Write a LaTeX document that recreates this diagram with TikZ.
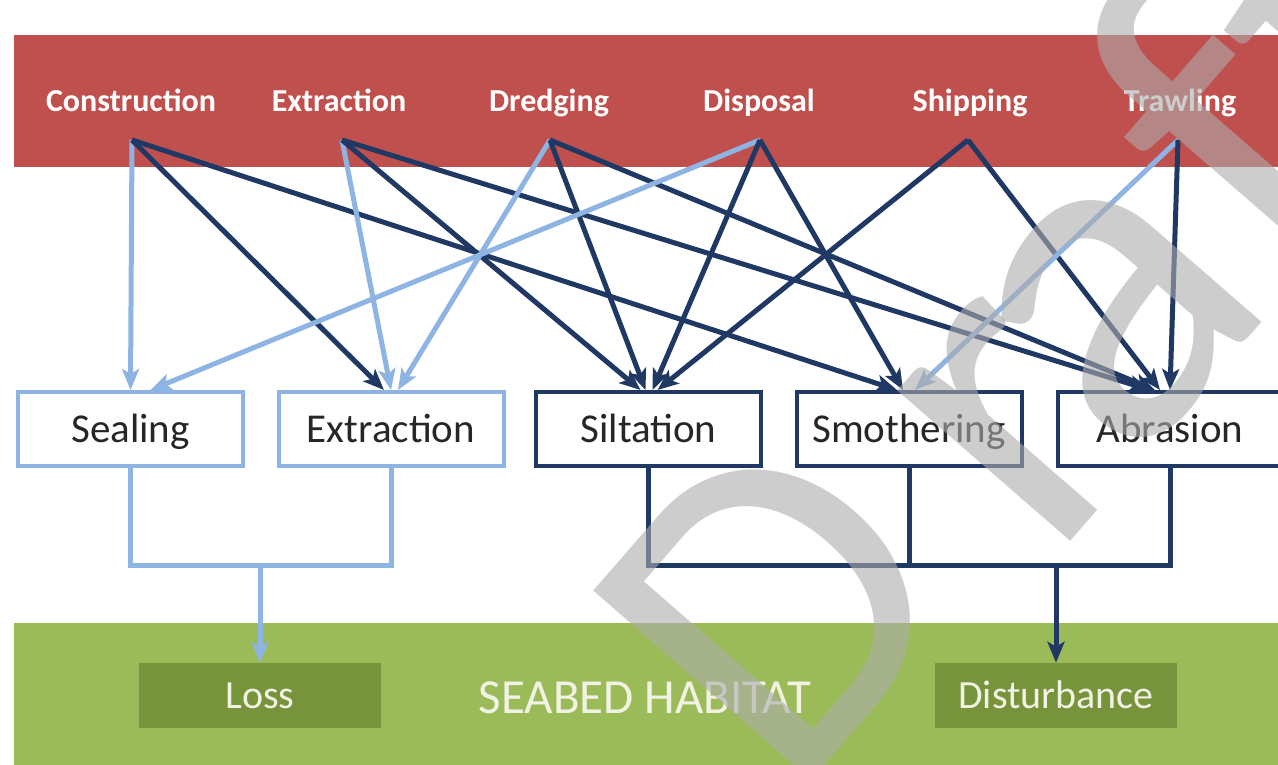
\documentclass[tikz,border=0pt]{standalone}
\usepackage{fontspec}
\setmainfont{Carlito}
\usetikzlibrary{arrows.meta,calc}
\definecolor{redband}{RGB}{192,80,77}
\definecolor{greenband}{RGB}{155,187,89}
\definecolor{greenbox}{RGB}{119,147,60}
\definecolor{navy}{RGB}{31,56,100}
\definecolor{lightblue}{RGB}{141,180,226}
\definecolor{boxtext}{RGB}{38,38,38}
\definecolor{cream}{RGB}{242,242,228}
\definecolor{wmgray}{RGB}{172,172,172}
\begin{document}
\begin{tikzpicture}[x=1pt,y=-1pt,
  toplab/.style={text=white,font=\fontsize{32}{36}\selectfont\bfseries,anchor=base,inner sep=0pt},
  effbox/.style={draw,fill=white,line width=4pt,minimum width=225pt,minimum height=74pt,inner sep=0pt,text=boxtext,font=\fontsize{41}{48}\selectfont,text height=26pt,text depth=0pt},
  lightbox/.style={effbox,draw=lightblue},
  darkbox/.style={effbox,draw=navy},
  habbox/.style={fill=greenbox,minimum width=242pt,minimum height=65pt,inner sep=0pt,text=cream,font=\fontsize{40}{48}\selectfont,text height=26pt,text depth=0pt},
  tipstyle/.style={-{Stealth[length=21pt,width=17pt,inset=5pt]}},
  larrow/.style={draw=lightblue,line width=5pt,tipstyle},
  darrow/.style={draw=navy,line width=5pt,tipstyle},
  lline/.style={draw=lightblue,line width=5pt},
  dline/.style={draw=navy,line width=5pt},
  wmletter/.style={rotate=49,anchor=base west,text=wmgray,text opacity=0.6,font=\fontsize{480}{480}\selectfont,inner sep=0pt},
  wmbig/.style={wmletter,font=\fontsize{450}{450}\selectfont},
]
\useasboundingbox (0,0) rectangle (1278,765);
\clip (0,0) rectangle (1278,765);
\fill[white] (0,0) rectangle (1278,765);

% bands
\fill[redband] (14,35) rectangle (1290,167);
\fill[greenband] (14,623) rectangle (1290,780);

% top labels
\node[toplab] (con) at (131,112) {Construction};
\node[toplab] (ext) at (339,112) {Extraction};
\node[toplab] (dre) at (549,112) {Dredging};
\node[toplab] (dis) at (759,112) {Disposal};
\node[toplab] (shi) at (970,112) {Shipping};
\node[toplab] (tra) at (1180,112) {Trawling};

\coordinate (conO) at (132,140);
\coordinate (extO) at (342,140);
\coordinate (dreO) at (550,140);
\coordinate (disO) at (760,140);
\coordinate (shiO) at (968,140);
\coordinate (traO) at (1178,140);

% effect boxes
\node[lightbox] (seal) at (130.5,429) {Sealing};
\node[lightbox] (extr) at (391,429) {Extraction};
\node[darkbox] (silt) at (648.5,429) {Siltation};
\node[darkbox] (smo) at (909,429) {Smothering};
\node[darkbox] (abr) at (1170,429) {Abrasion};

% habitat
\node[habbox] (loss) at (260,695.5) {Loss};
\node[habbox] (dist) at (1056,695.5) {Disturbance};
\node[text=cream,font=\fontsize{49}{56}\selectfont,anchor=base,inner sep=0pt] (hab) at (645,713) {SEABED HABITAT};

% pressures -> effects
\draw[larrow] (conO) -- (seal.north);
\draw[darrow] (conO) -- ([xshift=-7pt]extr.north);
\draw[darrow] (conO) -- ([xshift=-12pt]smo.north);
\draw[larrow] (extO) -- (extr.north);
\draw[darrow] (extO) -- ([xshift=-8pt]silt.north);
\draw[darrow] (extO) -- ([xshift=-20pt]abr.north);
\draw[larrow] (dreO) -- ([xshift=7pt]extr.north);
\draw[darrow] (dreO) -- ([xshift=-3pt]silt.north);
\draw[darrow] (dreO) -- ([xshift=-15pt]abr.north);
\draw[larrow] (disO) -- ([xshift=20pt]seal.north);
\draw[darrow] (disO) -- ([xshift=4pt]silt.north);
\draw[darrow] (disO) -- ([xshift=-6pt]smo.north);
\draw[darrow] (shiO) -- ([xshift=9pt]silt.north);
\draw[darrow] (shiO) -- ([xshift=-10pt]abr.north);
\draw[larrow] (traO) -- ([xshift=6pt]smo.north);
\draw[darrow] (traO) -- (abr.north);

% effects -> habitat
\coordinate (ljoin) at (260,565);
\coordinate (djoin) at (1056,565);
\draw[lline] (seal.south) |- (ljoin) -| (extr.south);
\draw[larrow] (ljoin) -- (loss.north);
\draw[dline] (silt.south) |- (djoin) -| (abr.south);
\draw[dline] (smo.south) -- (smo.south |- djoin);
\draw[darrow] (djoin) -- (dist.north);

% watermark
\node[wmbig] (wmD) at (791.1,803.7) {D};
\node[wmletter] (wmr) at (1050,565.1) {r};
\node[wmletter] (wma) at (1130.3,473.2) {a};
\node[wmletter] (wmf) at (1290.8,289.6) {f};
\node[wmletter] (wmt) at (1385,182) {t};
\end{tikzpicture}
\end{document}
